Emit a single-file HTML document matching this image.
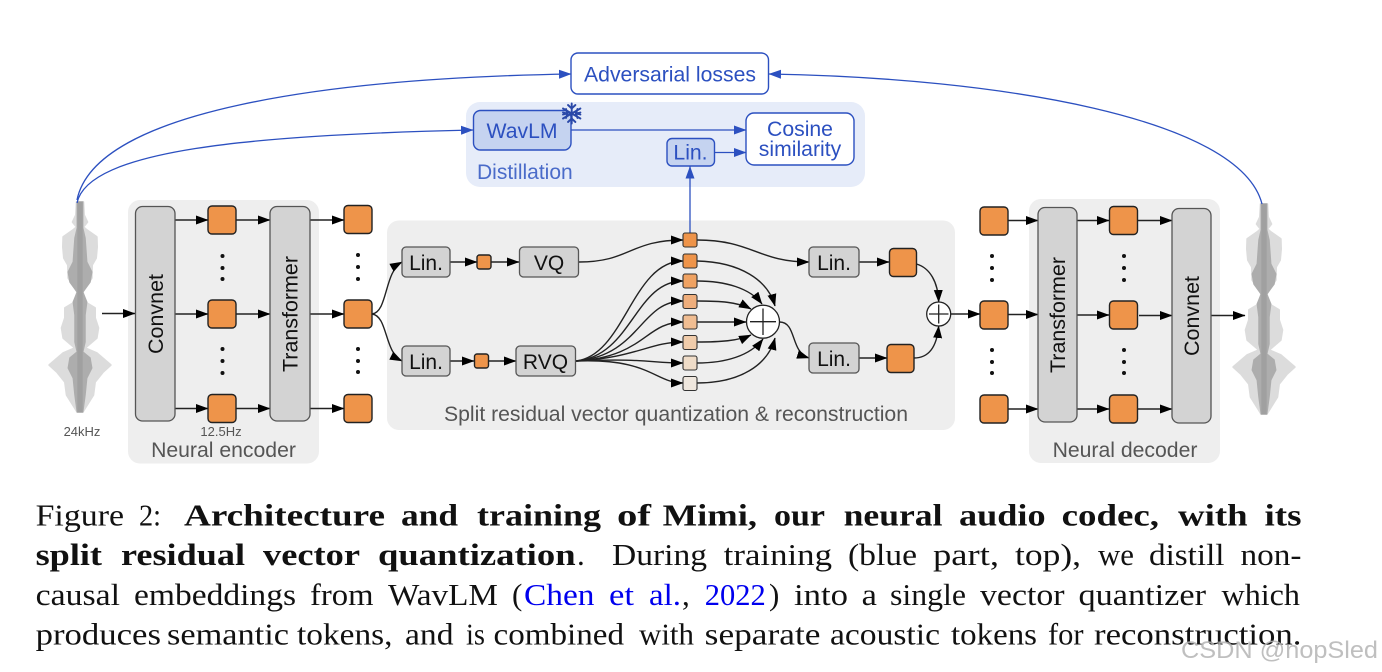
<!DOCTYPE html>
<html><head><meta charset="utf-8">
<style>
html,body{margin:0;padding:0;background:#fff;width:1382px;height:672px;overflow:hidden}
svg{position:absolute;left:0;top:0}
text{font-family:"Liberation Sans",sans-serif}
.c text{font-family:"Liberation Serif",serif;font-size:31px;fill:#111}
.c text.b{font-weight:bold}
.c text.u{fill:#0000ee}
</style></head><body>
<svg width="1382" height="672" viewBox="0 0 1382 672">
<defs>
<marker id="a" markerUnits="userSpaceOnUse" markerWidth="13" markerHeight="10" refX="12" refY="5" orient="auto"><path d="M0 .5L12.5 5L0 9.500z" fill="#000"/></marker>
<marker id="b" markerUnits="userSpaceOnUse" markerWidth="13" markerHeight="10" refX="12" refY="5" orient="auto"><path d="M0 .5L12.5 5L0 9.500z" fill="#2c50c0"/></marker>
<g id="w">
<polygon fill="#dcdcdc" stroke="#dcdcdc" stroke-width="2" stroke-linejoin="round" points="3.3,7 4,20 7.3,27 3.3,32 6.7,35 16.7,42 17,52 16,63 12,70 11.7,83 2.7,97 5,107 15,113 15,123 18.3,133 16.7,143 5,153 16.7,158 30.7,170 23,177 15,187 13.3,200 2.7,217 -2.7,217 -13.3,200 -15,187 -23,177 -30.7,170 -16.7,158 -5,153 -16.7,143 -18.3,133 -15,123 -15,113 -5,107 -2.7,97 -11.7,83 -12,70 -16,63 -17,52 -16.7,42 -6.7,35 -3.3,32 -7.3,27 -4,20 -3.3,7"/>
<polygon fill="#adadad" stroke="#adadad" stroke-width="1.500" stroke-linejoin="round" points="2.7,7 2.7,33 5,43 6.7,67 11.7,77 10,87 2.7,97 6.7,107 5,120 5,147 2.7,157 10,163 11.7,173 6.7,183 5,200 2.7,217 -2.7,217 -5,200 -6.7,183 -11.7,173 -10,163 -2.7,157 -5,147 -5,120 -6.7,107 -2.7,97 -10,87 -11.7,77 -6.7,67 -5,43 -2.7,33 -2.7,7"/>
<rect x="-2.7" y="7" width="5.4" height="210" fill="#a0a0a0"/>
</g>
</defs>

<!-- panels -->
<rect x="128" y="200" width="191" height="263.500" rx="12" fill="#eeeeee"/>
<rect x="387" y="220.500" width="568" height="209.500" rx="12" fill="#eeeeee"/>
<rect x="1029" y="199" width="191" height="264" rx="12" fill="#eeeeee"/>
<rect x="466" y="102" width="399" height="85" rx="14" fill="#e6ecf9"/>

<use href="#w" x="80" y="195"/>
<use href="#w" x="1264" y="197"/>

<!-- blue connectors -->
<g fill="none" stroke="#2c50c0" stroke-width="1.300" marker-end="url(#b)">
<path d="M77 203C88 150 250 135 473 130"/>
<path d="M77 200C95 110 330 78 571 74"/>
<path d="M1262 204C1240 118 1000 78 769 74"/>
<path d="M571 130H746"/>
<path d="M714 152.500H746"/>
<path d="M690 233V166.500"/>
</g>

<!-- black connectors -->
<g fill="none" stroke="#222" stroke-width="1.400" marker-end="url(#a)">
<path d="M102 313.500H135"/>
<path d="M175 220H208"/><path d="M175 314H208"/><path d="M175 408.500H208"/>
<path d="M236 220H270"/><path d="M236 314H270"/><path d="M236 408.500H270"/>
<path d="M310 220H344"/><path d="M310 314H344"/><path d="M310 408.500H344"/>
<path d="M372 314C388 312 384 272 402 262"/>
<path d="M372 314C388 316 384 352 402 361"/>
<path d="M450 262H477"/><path d="M491 262H519"/>
<path d="M450 361H474"/><path d="M488 361H516"/>
<path d="M579 262C630 262 630 240 683 240"/>
<path d="M576 361C625 355 632 261 683 261"/>
<path d="M576 361C632 356 635 281 683 281"/>
<path d="M576 361C640 356 640 301 683 301"/>
<path d="M576 361C645 357 645 322 683 322"/>
<path d="M576 361C635 358 650 342 683 342"/>
<path d="M576 361C645 358 650 363 683 363"/>
<path d="M576 361C650 358 655 383 683 383"/>
<path d="M697 240C752 240 758 262 809 262"/>
<path d="M697 261C740 262 768 280 775 306"/>
<path d="M697 281C725 281 750 288 762 304"/>
<path d="M697 301C720 301 738 302 751 309"/>
<path d="M697 322H746"/>
<path d="M697 342C720 342 738 341 751 335"/>
<path d="M697 363C725 363 750 356 763 339"/>
<path d="M697 383C740 383 768 365 775 338"/>
<path d="M779.500 322C797 322 790 352 809 358"/>
<path d="M859 262H889"/><path d="M859 358H887"/>
<path d="M916.500 264C930 268 938 282 938.700 302"/>
<path d="M914 358C930 358 937 345 938.700 326"/>
<path d="M951 314H980"/>
<path d="M1008 220.500H1038"/><path d="M1008 314.500H1038"/><path d="M1008 409H1038"/>
<path d="M1077 220.500H1109"/><path d="M1077 315H1109"/><path d="M1077 409H1109"/>
<path d="M1137 220.500H1172"/><path d="M1139 315.500H1172"/><path d="M1137 409H1172"/>
<path d="M1211 315.500H1245"/>
</g>

<!-- gray blocks -->
<g fill="#d3d3d3" stroke="#555" stroke-width="1.300">
<rect x="135.500" y="206.500" width="39.500" height="214.500" rx="7"/>
<rect x="270" y="206.500" width="40" height="214.500" rx="7"/>
<rect x="1038" y="207.500" width="39" height="214.500" rx="7"/>
<rect x="1172" y="208.500" width="39" height="214.500" rx="7"/>
<rect x="402" y="247" width="48" height="30" rx="4"/>
<rect x="402" y="346" width="48" height="30" rx="4"/>
<rect x="519.500" y="247" width="59" height="30" rx="4"/>
<rect x="516" y="346" width="59.500" height="30" rx="4"/>
<rect x="809" y="247" width="50" height="30" rx="4"/>
<rect x="809" y="343" width="50" height="30" rx="4"/>
</g>

<!-- orange blocks -->
<g fill="#ee944a" stroke="#222" stroke-width="1.400">
<rect x="208" y="206" width="28" height="28" rx="4"/><rect x="208" y="300" width="28" height="28" rx="4"/><rect x="208" y="394.500" width="28" height="28" rx="4"/>
<rect x="344" y="205.500" width="28" height="28" rx="4"/><rect x="344" y="300" width="28" height="28" rx="4"/><rect x="344" y="394.500" width="28" height="28" rx="4"/>
<rect x="980" y="207" width="28" height="28" rx="4"/><rect x="980" y="301" width="28" height="28" rx="4"/><rect x="980" y="395" width="28" height="28" rx="4"/>
<rect x="1109.500" y="206.500" width="28" height="28" rx="4"/><rect x="1109.500" y="301" width="28" height="28" rx="4"/><rect x="1109.500" y="395" width="28" height="28" rx="4"/>
<rect x="889.500" y="248.500" width="27" height="28" rx="4"/><rect x="887" y="344.500" width="27" height="28" rx="4"/>
<rect x="477" y="255" width="14" height="14" rx="2.500"/><rect x="474.500" y="354" width="14" height="14" rx="2.500"/>
</g>
<g stroke="#333" stroke-width="1.100">
<rect x="683" y="233" width="14" height="14" rx="2" fill="#ee944a"/>
<rect x="683" y="254" width="14" height="14" rx="2" fill="#ee944a"/>
<rect x="683" y="274" width="14" height="14" rx="2" fill="#efa262"/>
<rect x="683" y="294.500" width="14" height="14" rx="2" fill="#efae7c"/>
<rect x="683" y="315" width="14" height="14" rx="2" fill="#f0bd92"/>
<rect x="683" y="335.500" width="14" height="14" rx="2" fill="#f0ccab"/>
<rect x="683" y="356" width="14" height="14" rx="2" fill="#efdcc8"/>
<rect x="683" y="376.500" width="14" height="14" rx="2" fill="#efe7de"/>
</g>

<!-- dots -->
<g fill="#111">
<circle cx="222.500" cy="256" r="2"/><circle cx="222.500" cy="268" r="2"/><circle cx="222.500" cy="279" r="2"/>
<circle cx="222.500" cy="349" r="2"/><circle cx="222.500" cy="361" r="2"/><circle cx="222.500" cy="373" r="2"/>
<circle cx="358" cy="255" r="2"/><circle cx="358" cy="267" r="2"/><circle cx="358" cy="279" r="2"/>
<circle cx="358" cy="349" r="2"/><circle cx="358" cy="361" r="2"/><circle cx="358" cy="372" r="2"/>
<circle cx="992" cy="256" r="2"/><circle cx="992" cy="268" r="2"/><circle cx="992" cy="280" r="2"/>
<circle cx="992" cy="350" r="2"/><circle cx="992" cy="362" r="2"/><circle cx="992" cy="373" r="2"/>
<circle cx="1124" cy="256" r="2"/><circle cx="1124" cy="268" r="2"/><circle cx="1124" cy="280" r="2"/>
<circle cx="1124" cy="350" r="2"/><circle cx="1124" cy="362" r="2"/><circle cx="1124" cy="373" r="2"/>
</g>

<!-- plus nodes -->
<g fill="#fff" stroke="#222" stroke-width="1.300">
<circle cx="763" cy="321.700" r="16.500"/><path d="M750 321.700H776M763 308.500V335" fill="none"/>
<circle cx="938.700" cy="314" r="12"/><path d="M929 314H948.500M938.700 304.500V323.500" fill="none"/>
</g>

<!-- blue boxes -->
<rect x="571" y="53" width="197.500" height="41" rx="7" fill="#fff" stroke="#2c50c0" stroke-width="1.400"/>
<rect x="473.500" y="110.500" width="97.500" height="39.500" rx="7" fill="#c5d3f0" stroke="#2c50c0" stroke-width="1.400"/>
<rect x="667" y="138.500" width="47.500" height="27.500" rx="5" fill="#c5d3f0" stroke="#2c50c0" stroke-width="1.400"/>
<rect x="746" y="113" width="108" height="52" rx="8" fill="#fff" stroke="#2c50c0" stroke-width="1.400"/>
<g stroke="#2a48a8" stroke-width="1.900" fill="none" stroke-linecap="round">
<path d="M571.700 103.500V123.500M563 108.500L580.400 118.500M563 118.500L580.400 108.500"/>
<path d="M568 105L571.700 108.500L575.400 105M568 122L571.700 118.500L575.400 122M563 112.500L567.500 113.500L566 109M580.400 112.500L576 113.500L577.500 109M563 114.500L567.500 113.500L566 118M580.400 114.500L576 113.500L577.500 118"/>
</g>

<!-- labels -->
<g fill="#111" font-size="21" text-anchor="middle">
<text transform="translate(163 314) rotate(-90)" textLength="80" lengthAdjust="spacingAndGlyphs">Convnet</text>
<text transform="translate(297.500 314) rotate(-90)" textLength="116" lengthAdjust="spacingAndGlyphs">Transformer</text>
<text transform="translate(1065 315) rotate(-90)" textLength="116" lengthAdjust="spacingAndGlyphs">Transformer</text>
<text transform="translate(1199 316) rotate(-90)" textLength="80" lengthAdjust="spacingAndGlyphs">Convnet</text>
<text x="426" y="270">Lin.</text><text x="426" y="369">Lin.</text>
<text x="549" y="270">VQ</text><text x="545.500" y="369">RVQ</text>
<text x="834" y="270">Lin.</text><text x="834" y="366">Lin.</text>
</g>
<g fill="#555" text-anchor="middle">
<text x="223.500" y="457" font-size="21.200">Neural encoder</text>
<text x="1125" y="457" font-size="21.200">Neural decoder</text>
<text x="676" y="421" font-size="21.200">Split residual vector quantization &amp; reconstruction</text>
<text x="82" y="436" font-size="13">24kHz</text>
<text x="221" y="436" font-size="13">12.5Hz</text>
</g>
<g fill="#2c50c0" text-anchor="middle" font-size="21.200">
<text x="670" y="81.500">Adversarial losses</text>
<text x="522" y="138">WavLM</text>
<text x="690.500" y="159.500">Lin.</text>
<text x="800" y="136">Cosine</text>
<text x="800" y="156">similarity</text>
</g>
<text x="477" y="179" font-size="21" fill="#4a6bc9">Distillation</text>

<!-- caption -->
<g class="c" lengthAdjust="spacingAndGlyphs">
<text x="35.600" y="525.700" textLength="88.400" lengthAdjust="spacingAndGlyphs">Figure</text>
<text x="139" y="525.700" textLength="22" lengthAdjust="spacingAndGlyphs">2:</text>
<text class="b" x="184" y="525.700" textLength="201" lengthAdjust="spacingAndGlyphs">Architecture</text>
<text class="b" x="401" y="525.700" textLength="57" lengthAdjust="spacingAndGlyphs">and</text>
<text class="b" x="477" y="525.700" textLength="124" lengthAdjust="spacingAndGlyphs">training</text>
<text class="b" x="617" y="525.700" textLength="34" lengthAdjust="spacingAndGlyphs">of</text>
<text class="b" x="662.600" y="525.700" textLength="94.400" lengthAdjust="spacingAndGlyphs">Mimi,</text>
<text class="b" x="774" y="525.700" textLength="51" lengthAdjust="spacingAndGlyphs">our</text>
<text class="b" x="843.600" y="525.700" textLength="98.900" lengthAdjust="spacingAndGlyphs">neural</text>
<text class="b" x="959" y="525.700" textLength="86.600" lengthAdjust="spacingAndGlyphs">audio</text>
<text class="b" x="1061.600" y="525.700" textLength="97.400" lengthAdjust="spacingAndGlyphs">codec,</text>
<text class="b" x="1178" y="525.700" textLength="69.600" lengthAdjust="spacingAndGlyphs">with</text>
<text class="b" x="1264.500" y="525.700" textLength="37" lengthAdjust="spacingAndGlyphs">its</text>

<text class="b" x="35.600" y="565" textLength="66.400" lengthAdjust="spacingAndGlyphs">split</text>
<text class="b" x="121" y="565" textLength="124" lengthAdjust="spacingAndGlyphs">residual</text>
<text class="b" x="263" y="565" textLength="97" lengthAdjust="spacingAndGlyphs">vector</text>
<text class="b" x="378" y="565" textLength="197.600" lengthAdjust="spacingAndGlyphs">quantization</text>
<text x="577" y="565">.</text>
<text x="612" y="565" textLength="95" lengthAdjust="spacingAndGlyphs">During</text>
<text x="723.700" y="565" textLength="108.300" lengthAdjust="spacingAndGlyphs">training</text>
<text x="848" y="565" textLength="69" lengthAdjust="spacingAndGlyphs">(blue</text>
<text x="933" y="565" textLength="66" lengthAdjust="spacingAndGlyphs">part,</text>
<text x="1015" y="565" textLength="66" lengthAdjust="spacingAndGlyphs">top),</text>
<text x="1098" y="565" textLength="36" lengthAdjust="spacingAndGlyphs">we</text>
<text x="1149" y="565" textLength="75.500" lengthAdjust="spacingAndGlyphs">distill</text>
<text x="1240.500" y="565" textLength="61" lengthAdjust="spacingAndGlyphs">non-</text>

<text x="35.600" y="605" textLength="84.400" lengthAdjust="spacingAndGlyphs">causal</text>
<text x="134" y="605" textLength="162" lengthAdjust="spacingAndGlyphs">embeddings</text>
<text x="310" y="605" textLength="63.500" lengthAdjust="spacingAndGlyphs">from</text>
<text x="388" y="605" textLength="110" lengthAdjust="spacingAndGlyphs">WavLM</text>
<text x="512" y="605">(</text>
<text class="u" x="524" y="605" textLength="70.500" lengthAdjust="spacingAndGlyphs">Chen</text>
<text class="u" x="609" y="605" textLength="25" lengthAdjust="spacingAndGlyphs">et</text>
<text class="u" x="649" y="605" textLength="32" lengthAdjust="spacingAndGlyphs">al.</text>
<text x="682" y="605">,</text>
<text class="u" x="704.700" y="605" textLength="61" lengthAdjust="spacingAndGlyphs">2022</text>
<text x="769" y="605">)</text>
<text x="794" y="605" textLength="54" lengthAdjust="spacingAndGlyphs">into</text>
<text x="861.700" y="605" textLength="15.300" lengthAdjust="spacingAndGlyphs">a</text>
<text x="890" y="605" textLength="76" lengthAdjust="spacingAndGlyphs">single</text>
<text x="980" y="605" textLength="84.600" lengthAdjust="spacingAndGlyphs">vector</text>
<text x="1078.500" y="605" textLength="127.500" lengthAdjust="spacingAndGlyphs">quantizer</text>
<text x="1221.500" y="605" textLength="78.500" lengthAdjust="spacingAndGlyphs">which</text>

<text x="35.600" y="644.500" textLength="125.400" lengthAdjust="spacingAndGlyphs">produces</text>
<text x="167" y="644.500" textLength="122" lengthAdjust="spacingAndGlyphs">semantic</text>
<text x="297" y="644.500" textLength="95.500" lengthAdjust="spacingAndGlyphs">tokens,</text>
<text x="405" y="644.500" textLength="48.500" lengthAdjust="spacingAndGlyphs">and</text>
<text x="466" y="644.500" textLength="19" lengthAdjust="spacingAndGlyphs">is</text>
<text x="493.500" y="644.500" textLength="130.500" lengthAdjust="spacingAndGlyphs">combined</text>
<text x="639" y="644.500" textLength="55" lengthAdjust="spacingAndGlyphs">with</text>
<text x="704.700" y="644.500" textLength="115.800" lengthAdjust="spacingAndGlyphs">separate</text>
<text x="830" y="644.500" textLength="110" lengthAdjust="spacingAndGlyphs">acoustic</text>
<text x="951" y="644.500" textLength="86" lengthAdjust="spacingAndGlyphs">tokens</text>
<text x="1048" y="644.500" textLength="35.500" lengthAdjust="spacingAndGlyphs">for</text>
<text x="1094" y="644.500" textLength="207.500" lengthAdjust="spacingAndGlyphs">reconstruction.</text>
</g>

<text x="1181" y="658" font-size="24" fill="#b4b4b4" fill-opacity=".85" textLength="197" lengthAdjust="spacingAndGlyphs">CSDN @nopSled</text>
</svg>
</body></html>
